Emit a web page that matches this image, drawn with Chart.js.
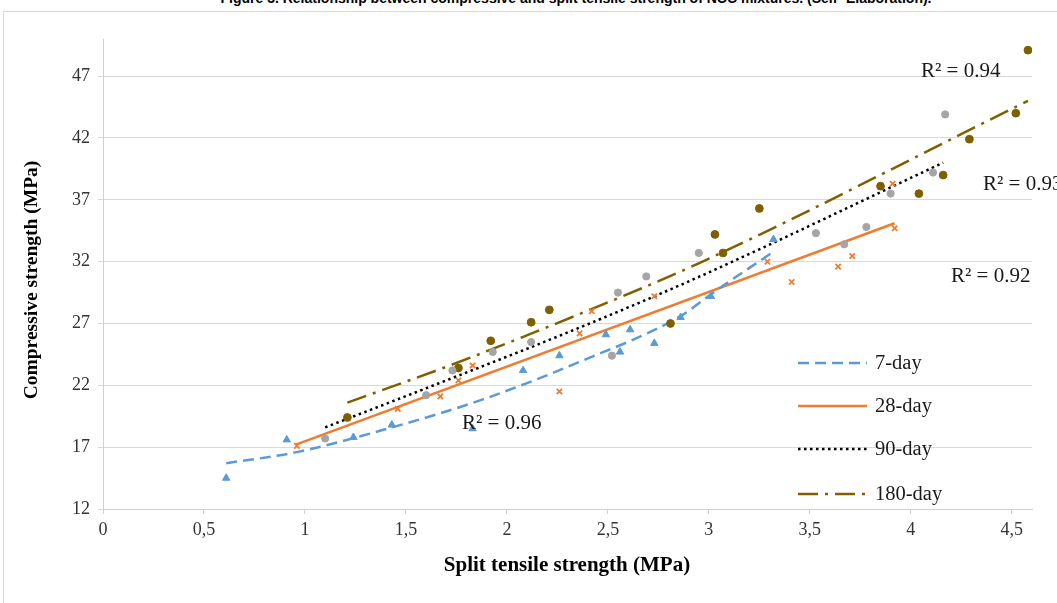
<!DOCTYPE html>
<html><head><meta charset="utf-8">
<script src="https://cdn.jsdelivr.net/npm/chart.js@4.4.1/dist/chart.umd.min.js"></script>
<style>
html,body{margin:0;padding:0;background:#fff;overflow:hidden}
#wrap{position:relative;width:1057px;height:603px;overflow:hidden}
#frame{position:absolute;left:3px;top:11px;width:1100px;height:700px;border:1px solid #d9d9d9}
#title{position:absolute;left:0;width:1152px;top:-10px;text-align:center;font:bold 14px "Liberation Sans",Arial,sans-serif;line-height:16px;color:#000;white-space:nowrap}
canvas{position:absolute;left:0;top:0}
</style></head><body>
<div id="wrap"><div id="frame"></div><div id="title">Figure 3. Relationship between compressive and split tensile strength of NCC mixtures. (Self- Elaboration).</div><canvas id="c" width="1057" height="603"></canvas></div>
<script>
// ---- data ----
const xTicks = [0, 0.5, 1, 1.5, 2, 2.5, 3, 3.5, 4, 4.5];
const yTicks = [12, 17, 22, 27, 32, 37, 42, 47];
const seriesNames = ['7-day', '28-day', '90-day', '180-day'];

const day7X = [0.61, 0.91, 1.24, 1.43, 1.83, 2.08, 2.26, 2.49, 2.56, 2.61, 2.73, 2.86, 3.01, 3.32];
const day7Y = [14.5, 17.6, 17.8, 18.8, 18.5, 23.2, 24.4, 26.1, 24.7, 26.5, 25.4, 27.5, 29.2, 33.8];

const day28X = [0.96, 1.46, 1.67, 1.76, 1.83, 2.26, 2.36, 2.42, 2.73, 3.29, 3.41, 3.64, 3.71, 3.91, 3.92];
const day28Y = [17.1, 20.1, 21.1, 22.4, 23.6, 21.5, 26.2, 28.0, 29.2, 32.0, 30.35, 31.6, 32.45, 38.3, 34.7];

const day90X = [1.10, 1.60, 1.73, 1.93, 2.12, 2.52, 2.55, 2.69, 2.95, 3.53, 3.67, 3.78, 3.90, 4.11, 4.17];
const day90Y = [17.7, 21.2, 23.2, 24.7, 25.5, 24.4, 29.5, 30.8, 32.7, 34.3, 33.4, 34.8, 37.5, 39.2, 43.9];

const day180X = [1.21, 1.76, 1.92, 2.12, 2.21, 2.81, 3.03, 3.07, 3.25, 3.85, 4.04, 4.16, 4.29, 4.52, 4.58];
const day180Y = [19.4, 23.4, 25.6, 27.1, 28.1, 27.0, 34.2, 32.7, 36.3, 38.1, 37.5, 39.0, 41.9, 44.0, 49.1];

// trendlines, points
const trend7X = [0.61, 0.96, 1.41, 1.87, 2.36, 2.86, 3.03, 3.32];
const trend7Y = [15.7, 16.6, 18.5, 20.8, 23.9, 27.6, 29.6, 32.8];
const trend28X = [0.955, 3.92];
const trend28Y = [17.2, 35.1];
const trend90X = [1.10, 1.70, 2.35, 2.955, 4.16];
const trend90Y = [18.6, 22.4, 26.6, 30.8, 40.0];
const trend180X = [1.21, 1.70, 2.35, 2.955, 4.58];
const trend180Y = [20.6, 23.5, 27.7, 31.9, 45.0];

const r2Labels = ['R² = 0.96', 'R² = 0.92', 'R² = 0.93', 'R² = 0.94'];

// ---- styles ----
const C_BLUE = '#5B9BD5', C_ORANGE = '#ED7D31', C_GRAY = '#A5A5A5', C_GOLD = '#7F6000', C_BLACK = '#000000';
const dashes = [[11, 6], [], [2.5, 3.5], [20, 7, 3, 7]];
const lineColors = [C_BLUE, C_ORANGE, C_BLACK, C_GOLD];

const pts = (xs, ys) => xs.map((x, i) => ({x: x, y: ys[i]}));

function trend(xs, ys, i) {
  return {
    label: seriesNames[i] + ' trend', data: pts(xs, ys), showLine: true, pointRadius: 0,
    borderColor: lineColors[i], borderWidth: 2.5, borderDash: dashes[i],
    cubicInterpolationMode: 'monotone', fill: false, order: 10
  };
}

const overlay = {
  id: 'overlay',
  afterDraw(chart) {
    const ctx = chart.ctx;
    ctx.save();
    // legend
    const lx0 = 798, lx1 = 867, tx = 875, ys = [363, 406, 449, 494];
    ctx.font = '20.5px "Liberation Serif", "Times New Roman", serif';
    ctx.textBaseline = 'middle';
    ctx.textAlign = 'left';
    seriesNames.forEach((n, i) => {
      ctx.beginPath();
      ctx.strokeStyle = lineColors[i];
      ctx.lineWidth = 2.5;
      ctx.setLineDash(dashes[i]);
      ctx.moveTo(lx0, ys[i]); ctx.lineTo(lx1, ys[i]);
      ctx.stroke();
      ctx.setLineDash([]);
      ctx.fillStyle = '#1a1a1a';
      ctx.fillText(n, tx, ys[i] + 1);
    });
    // R² labels
    ctx.font = '21px "Liberation Serif", "Times New Roman", serif';
    const rpos = [[462, 423], [951, 276], [983, 184], [921, 71]];
    r2Labels.forEach((t, i) => ctx.fillText(t, rpos[i][0], rpos[i][1]));
    // axis titles
    ctx.font = 'bold 21px "Liberation Serif", "Times New Roman", serif';
    ctx.fillStyle = '#000';
    ctx.textAlign = 'center';
    ctx.fillText('Split tensile strength (MPa)', 567, 566);
    ctx.font = 'bold 19.5px "Liberation Serif", "Times New Roman", serif';
    ctx.translate(32, 280);
    ctx.rotate(-Math.PI / 2);
    ctx.fillText('Compressive strength (MPa)', 0, 0);
    ctx.restore();
  }
};

const tickFont = {family: '"Liberation Serif", "Times New Roman", serif', size: 18};

new Chart(document.getElementById('c'), {
  type: 'scatter',
  data: {
    datasets: [
      trend(trend7X, trend7Y, 0),
      trend(trend28X, trend28Y, 1),
      trend(trend90X, trend90Y, 2),
      trend(trend180X, trend180Y, 3),
      {label: seriesNames[0], data: pts(day7X, day7Y), pointStyle: 'triangle', pointRadius: 4.3,
        backgroundColor: C_BLUE, borderColor: C_BLUE, borderWidth: 1, order: 1},
      {label: seriesNames[1], data: pts(day28X, day28Y), pointStyle: 'crossRot', pointRadius: 3.8,
        backgroundColor: C_ORANGE, borderColor: C_ORANGE, borderWidth: 1.8, order: 1},
      {label: seriesNames[2], data: pts(day90X, day90Y), pointStyle: 'circle', pointRadius: 3.6,
        backgroundColor: C_GRAY, borderColor: C_GRAY, borderWidth: 1, order: 1},
      {label: seriesNames[3], data: pts(day180X, day180Y), pointStyle: 'circle', pointRadius: 3.9,
        backgroundColor: C_GOLD, borderColor: C_GOLD, borderWidth: 1, order: 1}
    ]
  },
  options: {
    responsive: false, animation: false, devicePixelRatio: 1,
    layout: {padding: {top: 39, right: 25, left: 0, bottom: 0}},
    plugins: {legend: {display: false}, tooltip: {enabled: false}, title: {display: false}},
    scales: {
      x: {
        type: 'linear', min: 0, max: 4.6,
        afterBuildTicks: s => { s.ticks = xTicks.map(v => ({value: v})); },
        afterFit: s => { s.height = 94; },
        ticks: {font: tickFont, color: '#333', padding: 5, maxRotation: 0, autoSkip: false,
          callback: v => String(v).replace('.', ',')},
        grid: {drawOnChartArea: false, drawTicks: true, tickLength: 5, color: '#d0d0d0'},
        border: {color: '#d0d0d0', width: 1}
      },
      y: {
        type: 'linear', min: 12, max: 50,
        afterBuildTicks: s => { s.ticks = yTicks.map(v => ({value: v})); },
        afterFit: s => { s.width = 103; },
        ticks: {font: tickFont, color: '#333', padding: 8, autoSkip: false},
        grid: {color: '#d9d9d9', drawTicks: true, tickLength: 5, lineWidth: 1},
        border: {color: '#d0d0d0', width: 1}
      }
    }
  },
  plugins: [overlay]
});
</script>
</body></html>
